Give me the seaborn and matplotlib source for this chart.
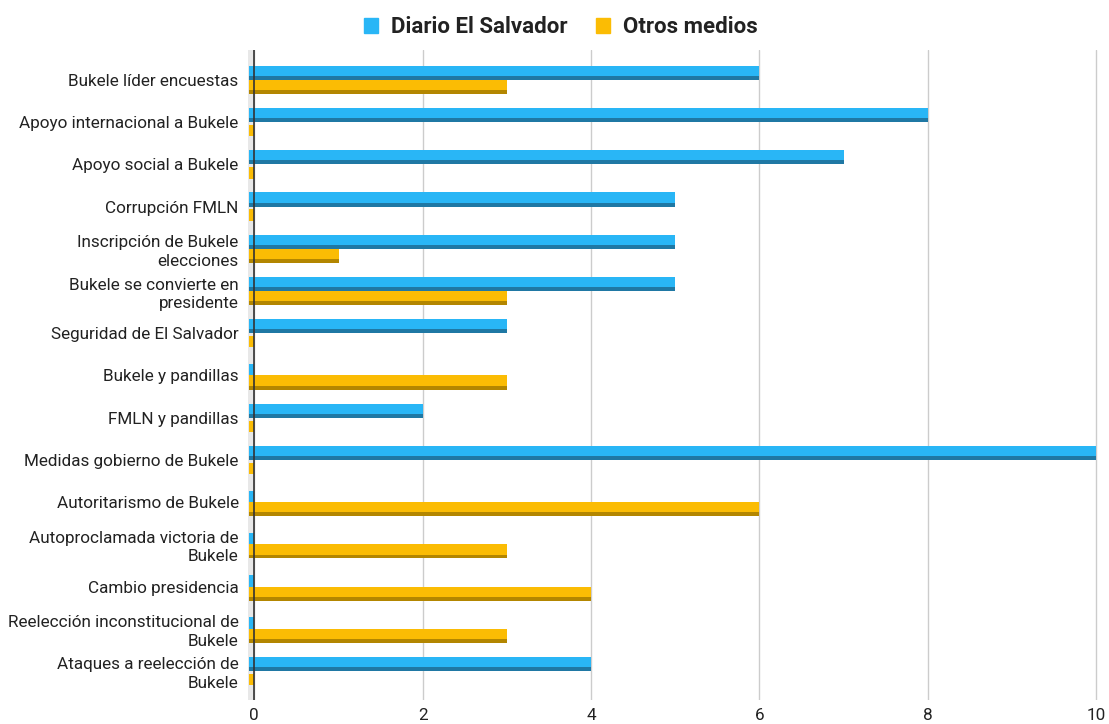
import numpy as np
import pandas as pd
import matplotlib
matplotlib.use('Agg')
import matplotlib.pyplot as plt
from matplotlib.patches import Rectangle
import seaborn as sns

# Data
categories = [
    'Bukele líder encuestas',
    'Apoyo internacional a Bukele',
    'Apoyo social a Bukele',
    'Corrupción FMLN',
    'Inscripción de Bukele\nelecciones',
    'Bukele se convierte en\npresidente',
    'Seguridad de El Salvador',
    'Bukele y pandillas',
    'FMLN y pandillas',
    'Medidas gobierno de Bukele',
    'Autoritarismo de Bukele',
    'Autoproclamada victoria de\nBukele',
    'Cambio presidencia',
    'Reelección inconstitucional de\nBukele',
    'Ataques a reelección de\nBukele',
]
diario = [6, 8, 7, 5, 5, 5, 3, 0, 2, 10, 0, 0, 0, 0, 4]
otros = [3, 0, 0, 0, 1, 3, 0, 3, 0, 0, 6, 3, 4, 3, 0]
series = ['Diario El Salvador', 'Otros medios']

colors = {'Diario El Salvador': '#29b6f6', 'Otros medios': '#fbbc04'}
dark = {'Diario El Salvador': '#1f78a4', 'Otros medios': '#b38600'}

df = pd.DataFrame({
    'tema': categories * 2,
    'valor': diario + otros,
    'medio': [series[0]] * len(categories) + [series[1]] * len(categories),
})

sns.set_style('white')
plt.rcParams['font.family'] = ['Roboto', 'DejaVu Sans']

fig = plt.figure(figsize=(11.09, 7.24), dpi=100)
ax = fig.add_axes([0.224, 0.033, 0.766, 0.898])

sns.barplot(data=df, y='tema', x='valor', hue='medio', palette=colors,
            orient='h', width=0.67, ax=ax, legend=False, saturation=1)

# 3D look: bars start a bit behind the axis, dark lower strip
off = 0.06
hue_of = [series[0]] * len(categories) + [series[1]] * len(categories)
for p, med in zip(list(ax.patches), hue_of):
    p.set_edgecolor('none')
    y, h, w = p.get_y(), p.get_height(), p.get_width()
    if w == 0:
        p.set_x(-off)
        p.set_width(off)
        p.set_y(y + 0.2 * h)
        p.set_height(0.8 * h)
        p.set_zorder(3)
        continue
    p.set_x(-off)
    p.set_width(w + off)
    p.set_zorder(3)
    ax.add_patch(Rectangle((-off, y + 0.72 * h), w + off, 0.28 * h,
                           color=dark[med], zorder=3, lw=0))

ax.axvspan(-0.07, 0, color='#e8e8e8', zorder=0, lw=0)
ax.set_xlim(-0.07, 10.02)
ax.set_ylim(14.69, -0.71)
ax.set_xticks([0, 2, 4, 6, 8, 10])
ax.xaxis.grid(True, color='#cccccc', lw=1)
ax.set_axisbelow(True)
ax.axvline(0, color='#333333', lw=1.2, zorder=4)
for s in ax.spines.values():
    s.set_visible(False)
ax.set_xlabel('')
ax.set_ylabel('')
ax.tick_params(axis='both', length=0, labelsize=12.3, colors='#222222')
ax.tick_params(axis='x', pad=6)
ax.tick_params(axis='y', pad=7)
for t in ax.get_yticklabels():
    t.set_horizontalalignment('right')
    t.set_multialignment('right')
    t.set_linespacing(1.3)

handles = [Rectangle((0, 0), 1, 1, color=colors[s]) for s in series]
fig.legend(handles, series, loc='upper center', bbox_to_anchor=(0.506, 1.005),
           ncol=2, frameon=False, prop={'weight': 'bold', 'size': 16},
           handlelength=0.6, handleheight=0.6, columnspacing=1.3,
           handletextpad=0.6, labelcolor='#222222')

plt.savefig('out.png')
